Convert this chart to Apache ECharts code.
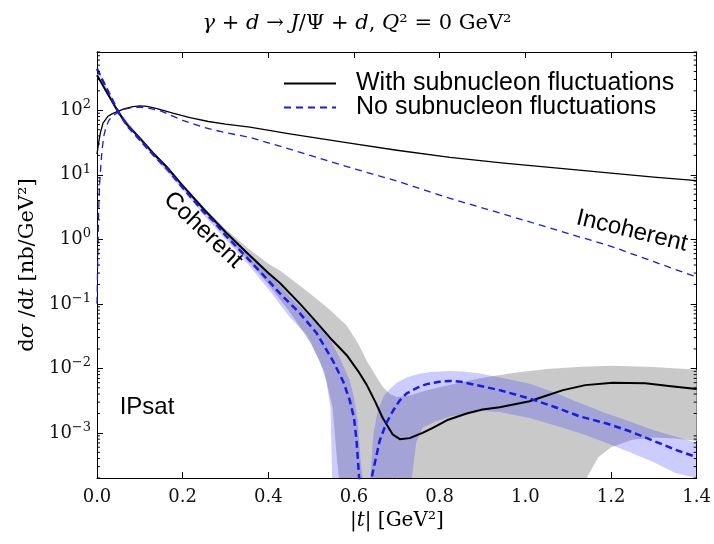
<!DOCTYPE html>
<html>
<head>
<meta charset="utf-8">
<script src="https://cdn.jsdelivr.net/npm/echarts@6/dist/echarts.min.js"></script>
<style>
  html, body { margin: 0; padding: 0; background: #fff; }
  #main { width: 714px; height: 544px; }
</style>
</head>
<body>
<div id="main"></div>
<script>
// [|t| (GeV^2), dsigma/dt (nb/GeV^2)]
var cohWith = [[0, 350], [0.01, 270], [0.02, 205], [0.03, 158], [0.04, 121], [0.05, 93], [0.07, 60], [0.1, 37], [0.13, 22], [0.163, 13.2], [0.2, 6.8], [0.25, 2.9], [0.3, 1.3], [0.35, 0.62], [0.4, 0.3], [0.427, 0.21], [0.474, 0.1], [0.504, 0.06], [0.55, 0.027], [0.583, 0.016], [0.61, 0.009], [0.63, 0.0055], [0.65, 0.003], [0.667, 0.0017], [0.69, 0.00095], [0.707, 0.0008], [0.73, 0.00083], [0.76, 0.001], [0.784, 0.0012], [0.82, 0.0016], [0.863, 0.002], [0.9, 0.0023], [0.94, 0.0025], [1.01, 0.0031], [1.05, 0.0038], [1.088, 0.0046], [1.14, 0.0055], [1.204, 0.006], [1.28, 0.0059], [1.34, 0.0053], [1.4, 0.0048]];
var cohNo = [[0, 440], [0.01, 320], [0.02, 235], [0.03, 172], [0.04, 127], [0.05, 94], [0.07, 58], [0.1, 35], [0.13, 21], [0.163, 12.5], [0.2, 6.3], [0.25, 2.6], [0.271, 1.95], [0.3, 1.15], [0.35, 0.52], [0.4, 0.23], [0.427, 0.145], [0.474, 0.071], [0.513, 0.035], [0.551, 0.013], [0.575, 0.0062], [0.59, 0.0032], [0.6, 0.0017], [0.606, 0.00075], [0.612, 0.0002], [0.62, 0.000001], [0.632, 0.000001], [0.641, 0.0002], [0.66, 0.00076], [0.675, 0.0014], [0.691, 0.0022], [0.707, 0.0032], [0.723, 0.0041], [0.75, 0.0051], [0.77, 0.0057], [0.8, 0.0062], [0.824, 0.0064], [0.85, 0.0062], [0.88, 0.0056], [0.94, 0.0046], [1.01, 0.0034], [1.07, 0.0025], [1.127, 0.0018], [1.19, 0.0014], [1.244, 0.00106], [1.3, 0.00075], [1.35, 0.00055], [1.4, 0.00042]];
var incWith = [[0, 21], [0.004, 32], [0.008, 45], [0.014, 63], [0.025, 80], [0.035, 88], [0.047, 95], [0.065, 106], [0.084, 114], [0.1, 117], [0.117, 115], [0.14, 106], [0.177, 90], [0.217, 77], [0.26, 67], [0.3, 61], [0.357, 55], [0.45, 43], [0.59, 31], [0.7, 24], [0.824, 18.6], [0.95, 15.2], [1.057, 13], [1.2, 10.6], [1.3, 9.2], [1.4, 8.1]];
var incNo = [[0, 0.1], [0.002, 0.6], [0.004, 3], [0.006, 7], [0.009, 14], [0.012, 25], [0.016, 40], [0.021, 55], [0.028, 70], [0.037, 82], [0.047, 91], [0.065, 104], [0.084, 111], [0.1, 112], [0.12, 108], [0.15, 97], [0.2, 70], [0.25, 54], [0.3, 45], [0.357, 38], [0.45, 25], [0.59, 13], [0.7, 8], [0.824, 4.3], [0.95, 2.45], [1.057, 1.5], [1.2, 0.78], [1.3, 0.45], [1.4, 0.26]];

// uncertainty bands of the coherent curves (upper / lower edge)
var bandWithHi = [[0, 370], [0.05, 97], [0.1, 39], [0.2, 7.2], [0.25, 3.1], [0.3, 1.45], [0.35, 0.75], [0.4, 0.42], [0.427, 0.33], [0.47, 0.2], [0.5, 0.14], [0.54, 0.085], [0.583, 0.046], [0.61, 0.024], [0.63, 0.013], [0.65, 0.0078], [0.667, 0.0052], [0.684, 0.004], [0.7, 0.0036], [0.73, 0.0038], [0.77, 0.0046], [0.82, 0.0055], [0.894, 0.007], [0.97, 0.0085], [1.05, 0.0098], [1.13, 0.0106], [1.2, 0.011], [1.3, 0.0105], [1.4, 0.0095]];
var bandWithLo = [[0, 335], [0.05, 89], [0.1, 35], [0.2, 6.4], [0.25, 2.7], [0.3, 1.15], [0.35, 0.5], [0.4, 0.2], [0.45, 0.075], [0.5, 0.024], [0.53, 0.009], [0.55, 0.0025], [0.56, 0.0004], [0.565, 0.000001], [1.12, 0.000001], [1.143, 0.0002], [1.17, 0.00042], [1.2, 0.0006], [1.25, 0.00078], [1.3, 0.00085], [1.35, 0.00082], [1.4, 0.00075]];
var bandNoHi = [[0, 460], [0.05, 99], [0.1, 37], [0.2, 6.7], [0.25, 2.85], [0.3, 1.3], [0.35, 0.62], [0.4, 0.3], [0.45, 0.13], [0.5, 0.06], [0.537, 0.035], [0.57, 0.013], [0.59, 0.0065], [0.6, 0.0035], [0.609, 0.0015], [0.615, 0.0004], [0.62, 0.000001], [0.632, 0.000001], [0.638, 0.0002], [0.645, 0.0009], [0.655, 0.0022], [0.67, 0.0038], [0.684, 0.0048], [0.7, 0.006], [0.723, 0.0072], [0.75, 0.0082], [0.777, 0.0088], [0.824, 0.0091], [0.86, 0.0089], [0.894, 0.0083], [0.95, 0.007], [1.01, 0.0058], [1.07, 0.0042], [1.127, 0.0029], [1.19, 0.002], [1.244, 0.0015], [1.3, 0.0011], [1.35, 0.00088], [1.4, 0.0007]];
var bandNoLo = [[0, 420], [0.05, 89], [0.1, 33], [0.2, 5.9], [0.25, 2.35], [0.3, 1.0], [0.35, 0.43], [0.4, 0.17], [0.45, 0.062], [0.49, 0.033], [0.52, 0.013], [0.535, 0.0065], [0.545, 0.0025], [0.549, 0.0002], [0.552, 0.000001], [0.728, 0.000001], [0.735, 0.0002], [0.745, 0.0007], [0.76, 0.0012], [0.79, 0.0015], [0.824, 0.0018], [0.86, 0.002], [0.894, 0.0022], [0.94, 0.0021], [1.01, 0.0017], [1.07, 0.0013], [1.127, 0.001], [1.19, 0.0007], [1.244, 0.0005], [1.3, 0.00035], [1.35, 0.00024], [1.4, 0.00016]];

// axis ranges
var tMin = 0, tMax = 1.4, tStep = 0.2;
var yMin = 2e-4, yMax = 800;
// minor ticks of the log axis: k * 10^n
var minorSteps = [2, 3, 4, 5, 6, 7, 8, 9];
var decades = [-4, -3, -2, -1, 0, 1, 2];

var SERIF = '"DejaVu Serif", "Liberation Serif", serif';
var SANS = '"Liberation Sans", Arial, sans-serif';
var LEG_WITH = 'With subnucleon fluctuations';
var LEG_NO = 'No subnucleon fluctuations';

var minorTicks = [];
decades.forEach(function (n) {
  minorSteps.forEach(function (k) {
    var v = k * Math.pow(10, n);
    if (v >= yMin && v <= yMax) minorTicks.push([tMin, v]);
  });
});

function clipRect(cs) {
  return { x: cs.x, y: cs.y, width: cs.width, height: cs.height };
}

// filled band between two edges, drawn as one polygon
function band(name, hi, lo, color, z) {
  var ring = hi.concat(lo.slice().reverse());
  return {
    type: 'custom',
    name: name,
    silent: true,
    z: z,
    data: ring,
    renderItem: function (params, api) {
      if (params.dataIndex !== 0) return;
      var pts = ring.map(function (p) { return api.coord(p); });
      return {
        type: 'polygon',
        shape: { points: echarts.graphic.clipPointsByRect(pts, clipRect(params.coordSys)), smooth: 0 },
        style: { fill: color }
      };
    }
  };
}

function line(name, data, color, width, dash, z) {
  return {
    type: 'line',
    name: name,
    data: data,
    showSymbol: false,
    symbol: 'none',
    smooth: false,
    silent: true,
    z: z,
    lineStyle: { color: color, width: width, type: dash || 'solid', join: 'round' },
    itemStyle: { color: color }
  };
}

var supFmt = function (v) {
  var e = Math.round(Math.log10(v));
  return '{b|10}{s|' + (e < 0 ? '\u2212' + (-e) : e) + '}';
};

var chart = echarts.init(document.getElementById('main'), null, { renderer: 'canvas' });

var option = {
  backgroundColor: '#fff',
  animation: false,
  title: {
    text: '{i|γ}{r| + }{i|d}{r| → }{i|J}{r|/Ψ + }{i|d}{r|, }{i|Q}{r|² = 0 GeV²}',
    left: 'center',
    top: 8,
    textStyle: {
      fontWeight: 'normal',
      rich: {
        i: { fontFamily: SERIF, fontSize: 21, fontStyle: 'italic', fontWeight: 'normal', color: '#000' },
        r: { fontFamily: SERIF, fontSize: 21, fontWeight: 'normal', color: '#000' }
      }
    }
  },
  legend: {
    data: [LEG_WITH, LEG_NO],
    orient: 'vertical',
    left: 283,
    top: 71,
    padding: 0,
    itemWidth: 52,
    itemHeight: 14,
    itemGap: -1,
    selectedMode: false,
    itemStyle: { opacity: 0 },
    textStyle: { fontFamily: SANS, fontSize: 25, color: '#000', padding: [0, 0, 0, 15] }
  },
  grid: { left: 97, right: 17, top: 52, bottom: 66, containLabel: false },
  xAxis: [{
    type: 'value',
    min: tMin, max: tMax, interval: tStep,
    position: 'bottom',
    name: '{p||}{i|t}{p|| [GeV²]}',
    nameLocation: 'middle',
    nameGap: 32,
    nameTextStyle: {
      rich: {
        p: { fontFamily: SERIF, fontSize: 20, color: '#000' },
        i: { fontFamily: SERIF, fontSize: 20, fontStyle: 'italic', color: '#000' }
      }
    },
    axisLine: { show: true, onZero: false, lineStyle: { color: '#000', width: 1 } },
    axisTick: { show: true, inside: true, length: 6, lineStyle: { color: '#000' } },
    axisLabel: { fontFamily: SERIF, fontSize: 18, color: '#111', margin: 10, formatter: function (v) { return v.toFixed(1); } },
    splitLine: { show: false }
  }, {
    type: 'value',
    min: tMin, max: tMax, interval: tStep,
    position: 'top',
    axisLine: { show: true, onZero: false, lineStyle: { color: '#000', width: 1 } },
    axisTick: { show: true, inside: true, length: 6, lineStyle: { color: '#000' } },
    axisLabel: { show: false },
    splitLine: { show: false }
  }],
  yAxis: [{
    type: 'log', logBase: 10,
    min: yMin, max: yMax,
    position: 'left',
    name: 'd{i|σ} /d{i|t} [nb/GeV²]',
    nameLocation: 'middle',
    nameGap: 57,
    nameTextStyle: {
      fontFamily: SERIF, fontSize: 21, color: '#000',
      rich: { i: { fontFamily: SERIF, fontSize: 21, fontStyle: 'italic', color: '#000' } }
    },
    axisLine: { show: true, onZero: false, lineStyle: { color: '#000', width: 1 } },
    axisTick: { show: true, inside: true, length: 6, lineStyle: { color: '#000' } },
    axisLabel: {
      showMinLabel: false, showMaxLabel: false, margin: 6,
      formatter: supFmt,
      rich: {
        b: { fontFamily: SERIF, fontSize: 18, color: '#111', lineHeight: 24 },
        s: { fontFamily: SERIF, fontSize: 13, color: '#111', verticalAlign: 'top', lineHeight: 13 }
      }
    },
    splitLine: { show: false }
  }, {
    type: 'log', logBase: 10,
    min: yMin, max: yMax,
    position: 'right',
    axisLine: { show: true, onZero: false, lineStyle: { color: '#000', width: 1 } },
    axisTick: { show: true, inside: true, length: 6, lineStyle: { color: '#000' } },
    axisLabel: { show: false },
    splitLine: { show: false }
  }],
  graphic: [
    { type: 'text', x: 203, y: 230, rotation: -0.76, z: 50, silent: true,
      style: { text: 'Coherent', font: '24px ' + SANS, fill: '#000', textAlign: 'center', textVerticalAlign: 'middle' } },
    { type: 'text', x: 632, y: 231, rotation: -0.24, z: 50, silent: true,
      style: { text: 'Incoherent', font: '24px ' + SANS, fill: '#000', textAlign: 'center', textVerticalAlign: 'middle' } },
    { type: 'text', x: 147, y: 407, z: 50, silent: true,
      style: { text: 'IPsat', font: '24px ' + SANS, fill: '#000', textAlign: 'center', textVerticalAlign: 'middle' } }
  ],
  series: [
    band('band with', bandWithHi, bandWithLo, '#c9c9c9', 1),
    band('band no', bandNoHi, bandNoLo, 'rgba(40,40,255,0.24)', 2),
    line(LEG_WITH, incWith, '#000', 1.3, null, 3),
    line(LEG_NO, incNo, '#1a1aee', 1.3, [7, 5], 4),
    line(LEG_WITH, cohWith, '#000', 2, null, 5),
    line(LEG_NO, cohNo, '#1a1aee', 2.5, [7, 4], 6),
    {
      type: 'custom',
      name: 'minor ticks',
      silent: true,
      z: 20,
      data: minorTicks,
      renderItem: function (params, api) {
        var cs = params.coordSys;
        var y = api.coord([tMin, api.value(1)])[1];
        var s = { stroke: '#000', lineWidth: 1 };
        return {
          type: 'group',
          children: [
            { type: 'line', shape: { x1: cs.x, y1: y, x2: cs.x + 3, y2: y }, style: s },
            { type: 'line', shape: { x1: cs.x + cs.width - 3, y1: y, x2: cs.x + cs.width, y2: y }, style: s }
          ]
        };
      }
    }
  ]
};

chart.setOption(option);
</script>
</body>
</html>
